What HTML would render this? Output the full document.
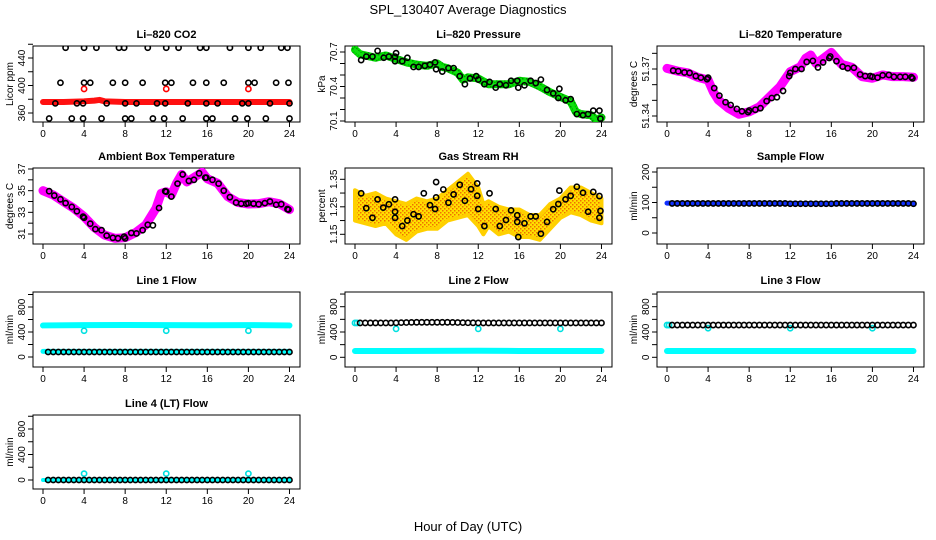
<!DOCTYPE html>
<html><head><meta charset="utf-8"><style>
body{margin:0;background:#fff}
svg{display:block;font-family:"Liberation Sans",sans-serif}
</style></head><body>
<svg id="c" width="936" height="540" xmlns="http://www.w3.org/2000/svg">
<defs>
<pattern id="rhpat" width="4" height="4" patternUnits="userSpaceOnUse">
<rect width="4" height="4" fill="#ffe000"/><rect width="1.5" height="1.5" fill="#f07000"/><rect x="2" y="2" width="1.5" height="1.5" fill="#f07000"/>
</pattern>
<pattern id="grpat" width="4" height="4" patternUnits="userSpaceOnUse">
<rect width="4" height="4" fill="#00e000"/><rect width="1.5" height="1.5" fill="#009000"/><rect x="2" y="2" width="1.5" height="1.5" fill="#009000"/>
</pattern>
</defs>
<text x="468" y="14" text-anchor="middle" font-size="13">SPL_130407  Average Diagnostics</text>
<text x="468" y="531" text-anchor="middle" font-size="13">Hour of Day (UTC)</text>
</svg>
<script>
const xTicks = [0,4,8,12,16,20,24];

// CO2
const co2BandT = [0,2,4,5,5.5,6,8,10,12,14,16,18,20,22,24];
const co2BandV = [376,376,377,378,379,377,376,376,376,376,376,376,376,376,376];
const co2T = [2.2,4,5.2,7.4,7.9,10.2,12,13.2,15.3,15.9,18.2,20,21.2,23.2,23.8,
  1.7,4,4.6,6.8,8,9.7,11.9,12.5,14.6,15.9,17.6,20,20.6,22.7,23.9,
  1.2,3.3,3.9,6.2,8,9.1,11.1,11.9,14.1,15.9,17,19.4,20,22.1,24,
  0.6,2.8,3.9,5.7,8,8.6,10.7,11.8,13.6,15.9,16.5,18.7,19.9,21.7,24];
const co2V = [455,455,455,455,455,455,455,455,455,455,455,455,455,455,455,
  404,404,404,404,404,404,404,404,404,404,404,404,404,404,404,
  374,374,374,374,374,374,374,374,374,374,374,374,374,374,374,
  352,352,352,352,352,352,352,352,352,352,352,352,352,352,352];
const co2RedT = [4,12,20];
const co2RedV = [395,395,395];

// Pressure
const prT = [0,0.5,1,2,3,4,5,6,7,8,8.5,9,10,10.5,11,12,13,14,15,16,17,18,19,20,21,21.5,22,23,23.5,24];
const prV = [70.72,70.68,70.67,70.65,70.67,70.64,70.61,70.59,70.58,70.60,70.57,70.56,70.52,70.46,70.48,70.47,70.42,70.42,70.42,70.45,70.44,70.40,70.35,70.31,70.27,70.18,70.16,70.15,70.11,70.13];
const prBT = [0.6,1.1,1.7,2.2,2.8,3.3,3.9,3.9,4,4.6,5.1,5.7,6.2,6.8,7.3,7.8,7.9,8.5,9.1,9.6,10.2,10.7,11.2,11.8,12,12.6,13.1,13.7,14.1,14.7,15.2,15.8,15.9,16.5,17.1,17.6,18.1,18.7,19.3,19.8,19.9,20.5,21,21.6,22.2,22.7,23.2,23.8,23.9];
const prBV = [70.63,70.66,70.66,70.71,70.65,70.66,70.62,70.66,70.69,70.62,70.65,70.57,70.57,70.58,70.59,70.61,70.55,70.53,70.56,70.56,70.49,70.42,70.47,70.49,70.46,70.42,70.44,70.39,70.42,70.41,70.45,70.45,70.39,70.41,70.45,70.43,70.46,70.37,70.34,70.30,70.38,70.28,70.29,70.16,70.15,70.16,70.19,70.19,70.12];

// Li-820 temperature
const tmT = [0,1,2,3,4,4.5,5,6,7,8,9,10,11,12,13,13.5,14,14.5,15,16,17,18,19,20,21,22,23,24];
const tmV = [51.3704,51.3687,51.3676,51.3647,51.3630,51.3555,51.3502,51.3449,51.3411,51.3427,51.3459,51.3523,51.3587,51.3683,51.3715,51.3768,51.3789,51.3736,51.3757,51.3806,51.3730,51.3711,51.3651,51.3641,51.3662,51.3651,51.3651,51.3647];
const tmBT = [0.6,1.1,1.7,2.2,2.8,3.3,3.9,4,4.6,5.1,5.7,6.2,6.8,7.3,7.9,8,8.6,9.1,9.7,10.2,10.7,11.3,11.9,12,12.5,13.1,13.6,14.2,14.7,15.2,15.8,15.9,16.5,17.1,17.6,18.2,18.8,19.3,19.8,20,20.5,21,21.6,22.1,22.7,23.2,23.8,23.9];
const tmBV = [51.3690,51.3686,51.3678,51.3675,51.3655,51.3645,51.3635,51.3645,51.3578,51.3530,51.3488,51.3470,51.3445,51.3430,51.3425,51.3435,51.3440,51.3450,51.3495,51.3515,51.3520,51.3560,51.3655,51.3675,51.3700,51.3700,51.3745,51.3752,51.3710,51.3742,51.3770,51.3780,51.3750,51.3715,51.3705,51.3708,51.3665,51.3655,51.3655,51.3650,51.3645,51.3660,51.3662,51.3650,51.3650,51.3650,51.3648,51.3640];

// Ambient box temperature
const abT = [0,1,2,3,4,5,6,7,8,9,10,11,11.5,12,12.5,13,13.5,14,15,15.5,16,17,18,19,20,21,22,23,24];
const abV = [35.0,34.6,33.98,33.37,32.6,31.6,30.9,30.6,30.66,31.12,31.83,33.37,34.75,34.9,34.6,35.68,36.5,35.8,36.4,36.7,36.1,35.68,34.45,33.9,33.77,33.8,33.98,33.8,33.25];
const abBT = [0.6,1.1,1.7,2.2,2.8,3.3,3.9,4,4.6,5.1,5.7,6.2,6.8,7.3,7.9,8,8.6,9.1,9.7,10.2,10.7,11.3,11.9,12,12.5,13.1,13.6,14.2,14.7,15.2,15.8,15.9,16.5,17.1,17.6,18.2,18.8,19.3,19.8,20,20.5,21,21.6,22.1,22.7,23.2,23.8,23.9];
const abBV = [34.95,34.55,34.2,33.85,33.5,33.1,32.6,32.5,31.95,31.45,31.35,30.85,30.65,30.6,30.75,30.6,31.1,31.05,31.35,31.85,31.8,33.4,34.95,34.9,34.45,35.65,36.5,35.9,36.0,36.6,36.2,36.2,36.0,35.65,35.0,34.4,33.9,33.8,33.8,33.85,33.8,33.75,33.85,34.0,33.7,33.75,33.3,33.25];

// Gas stream RH
const rhT = [0,1,2,3,4,5,6,7,8,9,10,11,12,12.5,13,14,15,16,17,18,19,20,21,22,23,24];
const rhHi = [1.31,1.29,1.30,1.28,1.27,1.26,1.28,1.27,1.28,1.31,1.34,1.37,1.32,1.26,1.27,1.25,1.24,1.24,1.22,1.22,1.26,1.28,1.32,1.32,1.30,1.28];
const rhLo = [1.20,1.19,1.18,1.19,1.15,1.13,1.16,1.17,1.17,1.20,1.21,1.22,1.18,1.15,1.18,1.15,1.16,1.14,1.14,1.13,1.17,1.21,1.23,1.22,1.20,1.19];
const rhBT = [0.6,1.1,1.7,2.2,2.75,3.3,3.9,3.9,3.9,4.6,5.1,5.7,6.2,6.7,7.3,7.8,7.9,7.9,8.6,9.1,9.6,10.2,10.7,11.3,11.9,11.9,12,12.6,13.1,13.7,14.1,14.7,15.2,15.8,15.8,15.9,16.5,17.1,17.6,18.1,18.7,19.3,19.8,19.9,20.5,21,21.6,22.2,22.7,23.2,23.8,23.8,23.9];
const rhBV = [1.299,1.245,1.210,1.277,1.247,1.259,1.277,1.210,1.232,1.180,1.200,1.223,1.215,1.299,1.256,1.242,1.284,1.340,1.313,1.265,1.295,1.330,1.272,1.314,1.335,1.290,1.242,1.180,1.299,1.242,1.180,1.202,1.237,1.219,1.195,1.140,1.190,1.215,1.215,1.152,1.195,1.241,1.260,1.309,1.277,1.290,1.323,1.301,1.232,1.304,1.289,1.210,1.235];

// Half-hour sample times for flow panels
const halfT = [0.5,1,1.5,2,2.5,3,3.5,4,4.5,5,5.5,6,6.5,7,7.5,8,8.5,9,9.5,10,10.5,11,11.5,12,12.5,13,13.5,14,14.5,15,15.5,16,16.5,17,17.5,18,18.5,19,19.5,20,20.5,21,21.5,22,22.5,23,23.5,24];
const bandT = [0,4,8,12,16,20,24];
const sfBand = [98,97,98,97,96,98,97];
const sfBlack = [97,97,97,97,97,97,97,97,97,97,97,97,97,97,97,97,97,97,97,97,97,97,97,96,96,96,96,96,96,96,96,96,97,97,97,97,97,97,97,97,97,97,97,97,97,97,97,96];
const l1Cyan = [505,510,512,510,508,510,505];
const l1Low = [90,90,90,90,90,90,90];
const l1Black = [80,80,80,80,80,80,80,80,80,80,80,80,80,80,80,80,80,80,80,80,80,80,80,80,80,80,80,80,80,80,80,80,80,80,80,80,80,80,80,80,80,80,80,80,80,80,80,80];
const l2Black = [543,543,543,543,543,543,543,545,548,550,552,553,553,553,553,553,553,553,552,550,548,546,545,544,543,543,543,543,543,543,543,543,543,543,543,543,543,543,543,543,543,543,543,543,543,543,543,543];
const l2Cyan = [100,100,102,103,100,100,100];
const l3Black = [510,510,510,510,510,510,510,510,510,510,510,510,510,510,510,510,510,510,510,510,510,510,510,510,510,510,510,510,510,510,510,510,510,510,510,510,510,510,510,510,510,510,510,510,510,510,510,510];
const l3Cyan = [100,100,100,100,100,100,100];
const l4Black = [0,0,0,0,0,0,0,0,0,0,0,0,0,0,0,0,0,0,0,0,0,0,0,0,0,0,0,0,0,0,0,0,0,0,0,0,0,0,0,0,0,0,0,0,0,0,0,0];
const l4Cyan = [0,0,0,0,0,0,0];
const dipT = [4,12,20];
const l1Dip = [420,420,420];
const l2Dip = [450,450,450];
const l3Dip = [460,460,460];
const l4Dip = [100,100,100];

const svg = document.getElementById('c');
const NS = 'http://www.w3.org/2000/svg';
const tops = [46,168,292,415], bots = [122,244,367,489];
function mk(tag, attrs, parent){ const e=document.createElementNS(NS,tag); for(const k in attrs) e.setAttribute(k,attrs[k]); (parent||svg).appendChild(e); return e; }

function panel(name, title, ylab, col, row, v1, p1, v2, p2, ticks, labels){
  const g = mk('g',{});
  
  
  const L = 33+312*col, R = 300+312*col, T = tops[row], B = bots[row];
  const xs = h => 43+312*col + h*10.27;
  const ys = v => p1 + (v - v1)*(p2-p1)/(v2-v1);
  const box = mk('rect',{x:L,y:T,width:R-L,height:B-T,fill:'none',stroke:'#000','stroke-width':1},g);
  
  
  const t = mk('text',{x:(L+R)/2,y:T-8,'text-anchor':'middle','font-size':11,'font-weight':'bold'},g);
  t.textContent = title;
  
  
  const yl = mk('text',{transform:`translate(${L-20},${(T+B)/2}) rotate(-90)`,'text-anchor':'middle','font-size':10},g);
  yl.textContent = ylab;
  
  
  xTicks.forEach(h => {
    mk('line',{x1:xs(h),x2:xs(h),y1:B,y2:B+5,stroke:'#000'},g);
    const tx = mk('text',{x:xs(h),y:B+15,'text-anchor':'middle','font-size':10},g);
    tx.textContent = h;
    
    
  });
  ticks.forEach((v,i) => {
    const y = ys(v);
    mk('line',{x1:L-5,x2:L,y1:y,y2:y,stroke:'#000'},g);
    if (labels[i] !== '') {
      const tx = mk('text',{transform:`translate(${L-8},${y}) rotate(-90)`,'text-anchor':'middle','font-size':10},g);
      tx.textContent = labels[i];
      
      
    }
  });
  const clip = 'clip'+name;
  const cp = mk('clipPath',{id:clip},g); mk('rect',{x:L,y:T,width:R-L,height:B-T},cp);
  const pg = mk('g',{'clip-path':`url(#${clip})`},g);
  return {xs, ys, g:pg};
}
function band(p, T, V, color, w, nm){
  const pl = mk('polyline',{points:T.map((t,i)=>p.xs(t)+','+p.ys(V[i])).join(' '),fill:'none',stroke:color,'stroke-width':w,'stroke-linejoin':'round','stroke-linecap':'round'},p.g);
  
  
}
function pts(p, T, V, color, nm, r){
  T.forEach((t,i)=>{
    const c = mk('circle',{cx:p.xs(t),cy:p.ys(V[i]),r:r||2.6,fill:'none',stroke:color,'stroke-width':1.6},p.g);
    
    
  });
}

// Row 1
let p = panel('li820-co2-panel','Li\u2013820 CO2','Licor ppm',0,0,360,113,440,58,[360,380,400,420,440,460],['360','','400','','440','']);
band(p, co2BandT, co2BandV, '#ff1010', 6, 'co2-band');
pts(p, co2T, co2V, '#000', 'co2-point');
pts(p, co2RedT, co2RedV, '#ff0000', 'co2-red-point');

p = panel('li820-pressure-panel','Li\u2013820 Pressure','kPa',1,0,70.1,121,70.7,52,[70.1,70.2,70.3,70.4,70.5,70.6,70.7],['70.1','','','70.4','','','70.7']);
band(p, prT, prV, 'url(#grpat)', 8, 'pressure-band');
band(p, prT, prV, '#10e010', 3, 'pressure-band-core');
pts(p, prBT, prBV, '#000', 'pressure-point');

p = panel('li820-temperature-panel','Li\u2013820 Temperature','degrees C',2,0,51.34,116,51.37,69,[51.34,51.35,51.36,51.37,51.38],['51.34','','','51.37','']);
band(p, tmT, tmV, '#ff00ff', 9, 'temperature-band');
pts(p, tmBT, tmBV, '#000', 'temperature-point');

// Row 2
p = panel('ambient-box-temperature-panel','Ambient Box Temperature','degrees C',0,1,31,234,37,169,[31,32,33,34,35,36,37],['31','','33','','35','','37']);
band(p, abT, abV, '#ff00ff', 9, 'ambient-band');
pts(p, abBT, abBV, '#000', 'ambient-point');

p = panel('gas-stream-rh-panel','Gas Stream RH','percent',1,1,1.15,234.3,1.35,179.3,[1.15,1.20,1.25,1.30,1.35],['1.15','','1.25','','1.35']);
{
  const up = rhT.map((t,i)=>p.xs(t)+','+p.ys(rhHi[i]));
  const dn = rhT.map((t,i)=>p.xs(t)+','+p.ys(rhLo[i])).reverse();
  const poly = mk('polygon',{points:up.concat(dn).join(' '),fill:'url(#rhpat)',stroke:'#ffd000','stroke-width':4,'stroke-linejoin':'round'},p.g);
  
  
}
pts(p, rhBT, rhBV, '#000', 'rh-point');

p = panel('sample-flow-panel','Sample Flow','ml/min',2,1,0,233,200,172,[0,50,100,150,200],['0','','100','','200']);
band(p, bandT, sfBand, '#1030ff', 5, 'sample-flow-band');
pts(p, halfT, sfBlack, '#000', 'sample-flow-point');

// Row 3
const fTicks = [0,200,400,600,800,1000], fLab = ['0','','400','','800',''];
p = panel('line1-flow-panel','Line 1 Flow','ml/min',0,2,0,357,800,307,fTicks,fLab);
band(p, bandT, l1Cyan, '#00ffff', 6, 'line1-cyan-band');
band(p, bandT, l1Low, '#00ffff', 5, 'line1-cyan-low-band');
pts(p, dipT, l1Dip, '#00e0e0', 'line1-cyan-point');
pts(p, halfT, l1Black, '#000', 'line1-point');

p = panel('line2-flow-panel','Line 2 Flow','ml/min',1,2,0,357.3,800,306.7,fTicks,fLab);
band(p, bandT, l2Cyan, '#00ffff', 6, 'line2-cyan-band');
pts(p, [0,0.2], [543,543], '#00e0e0', 'line2-cyan-point');
pts(p, dipT, l2Dip, '#00e0e0', 'line2-cyan-point');
pts(p, halfT, l2Black, '#000', 'line2-point');

p = panel('line3-flow-panel','Line 3 Flow','ml/min',2,2,0,357.3,800,306.7,fTicks,fLab);
band(p, bandT, l3Cyan, '#00ffff', 6, 'line3-cyan-band');
pts(p, [0,0.2], [510,510], '#00e0e0', 'line3-cyan-point');
pts(p, dipT, l3Dip, '#00e0e0', 'line3-cyan-point');
pts(p, halfT, l3Black, '#000', 'line3-point');

// Row 4
p = panel('line4-flow-panel','Line 4 (LT) Flow','ml/min',0,3,0,480,800,429,fTicks,fLab);
band(p, bandT, l4Cyan, '#00ffff', 4, 'line4-cyan-band');
pts(p, dipT, l4Dip, '#00e0e0', 'line4-cyan-point');
pts(p, halfT, l4Black, '#000', 'line4-point');
</script>
</body></html>
